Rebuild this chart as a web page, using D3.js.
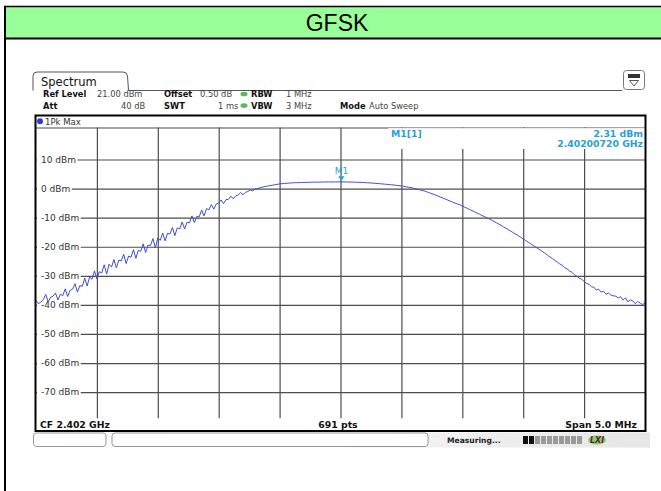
<!DOCTYPE html>
<html><head><meta charset="utf-8">
<script src="https://cdn.jsdelivr.net/npm/d3@7/dist/d3.min.js"></script>
<style>body{margin:0;background:#fff;} svg{display:block;}</style>
</head><body><svg id="c" width="661" height="491"></svg>
<script>
// ---------- data ----------
const title = "GFSK";
const yRange = [-79, 21];                 // dBm (bottom, ref level)
const yTickValues = [10, 0, -10, -20, -30, -40, -50, -60, -70];
const yTickLabels = ["10 dBm", "0 dBm", "-10 dBm", "-20 dBm", "-30 dBm", "-40 dBm", "-50 dBm", "-60 dBm", "-70 dBm"];
const xRange = [-2.5, 2.5];               // MHz offset from CF
const xGridValues = [-2.0, -1.5, -1.0, -0.5, 0.0, 0.5, 1.0, 1.5, 2.0];
const sweepStepMHz = 0.02;
const traceDbm = [
-38.4,-39.6,-39.0,-38.2,-36.4,-39.0,-37.4,-37.0,-35.9,-38.3,
-36.4,-36.8,-34.5,-37.1,-35.0,-34.6,-32.7,-35.6,-33.4,-33.6,
-30.8,-33.5,-30.4,-31.2,-28.3,-31.0,-28.6,-29.0,-26.2,-29.4,
-26.0,-27.0,-24.4,-27.3,-24.6,-24.9,-22.6,-25.8,-23.2,-23.6,
-21.0,-24.0,-21.2,-21.6,-19.0,-22.0,-19.4,-19.6,-17.2,-20.4,
-17.0,-17.8,-15.3,-18.0,-15.4,-15.6,-13.4,-16.2,-13.5,-13.9,
-11.5,-13.9,-11.6,-11.8,-9.4,-11.7,-9.6,-9.7,-7.4,-9.4,
-6.9,-7.3,-5.5,-7.1,-5.3,-5.0,-3.9,-5.2,-3.8,-3.7,
-2.6,-3.5,-2.5,-2.2,-1.4,-2.1,-1.3,-1.0,-0.5,-0.8,
-0.1,0.0,0.35,0.5,0.7,0.85,1.0,1.15,1.3,1.45,
1.6,1.68,1.75,1.83,1.9,1.95,2.0,2.03,2.05,2.08,
2.1,2.13,2.15,2.18,2.2,2.21,2.22,2.24,2.25,2.26,
2.27,2.28,2.29,2.29,2.30,2.31,2.30,2.28,2.26,2.24,
2.22,2.2,2.17,2.14,2.1,2.05,2.0,1.95,1.9,1.83,
1.75,1.68,1.6,1.53,1.45,1.38,1.3,1.2,1.1,1.0,
0.9,0.75,0.6,0.45,0.3,0.1,-0.1,-0.3,-0.5,-0.75,
-1.0,-1.3,-1.6,-1.9,-2.2,-2.55,-2.9,-3.25,-3.6,-3.95,
-4.3,-4.65,-5.0,-5.3,-5.6,-6.0,-6.4,-6.8,-7.2,-7.6,
-8.0,-8.4,-8.8,-9.2,-9.6,-10.0,-10.4,-10.85,-11.3,-11.75,
-12.2,-12.7,-13.2,-13.7,-14.2,-14.7,-15.2,-15.7,-16.2,-16.75,
-17.3,-17.85,-18.4,-18.95,-19.5,-20.05,-20.6,-21.15,-21.7,-22.3,
-22.9,-23.5,-24.1,-24.7,-25.3,-25.9,-26.4,-27.2,-27.6,-28.3,
-28.8,-29.6,-30.1,-30.8,-31.2,-31.9,-32.6,-32.9,-33.8,-33.9,
-34.9,-34.6,-35.6,-35.3,-36.4,-35.9,-36.6,-36.9,-37.0,-37.6,
-37.2,-38.3,-37.6,-38.9,-38.3,-38.6,-39.6,-38.8,-39.4,-39.9,
-39.3
];
const markerName = "M1";
const markerFreqMHz = 0.0072;
const markerDbm = 2.31;
const markerLevelText = "2.31 dBm";
const markerFreqText = "2.40200720 GHz";
const footerLeft = "CF 2.402 GHz";
const footerMid = "691 pts";
const footerRight = "Span 5.0 MHz";
const traceLabel = "1Pk Max";

// ---------- drawing ----------
const svg = d3.select("#c");
const F = "'DejaVu Sans', Verdana, sans-serif";

// outer table frame + title band
svg.append("rect").attr("x",5).attr("y",6.5).attr("width",700).attr("height",32)
  .attr("fill","#99ff99");
svg.append("line").attr("x1",5).attr("x2",661).attr("y1",6.5).attr("y2",6.5).attr("stroke","#000").attr("stroke-width",1.6);
svg.append("line").attr("x1",5).attr("x2",661).attr("y1",38.5).attr("y2",38.5).attr("stroke","#000").attr("stroke-width",2);
svg.append("line").attr("x1",5).attr("x2",5).attr("y1",5.7).attr("y2",491).attr("stroke","#000").attr("stroke-width",2);
svg.append("text").attr("x",337).attr("y",31).attr("text-anchor","middle")
  .attr("font-family","'Liberation Sans', Arial, sans-serif").attr("font-size",23).attr("fill","#000").text(title);

// header tab
svg.append("path").attr("d","M33,90.5 L33,76 Q33,72 37,72 L123,72 Q127,72 127.5,76 L128.5,90.5 L622,90.5")
  .attr("fill","none").attr("stroke","#555").attr("stroke-width",1);
svg.append("text").attr("x",41).attr("y",86).attr("font-family",F).attr("font-size",11.5).attr("fill","#111").text("Spectrum");

// top-right icon
svg.append("rect").attr("x",623.5).attr("y",70.5).attr("width",21).attr("height",19).attr("rx",3)
  .attr("fill","#fff").attr("stroke","#777");
svg.append("rect").attr("x",628).attr("y",74).attr("width",12).attr("height",4).attr("fill","#333");
svg.append("path").attr("d","M629.5,80.5 L638.5,80.5 L634,86 Z").attr("fill","none").attr("stroke","#555");

// settings rows
const hdr = [
  [43,97,"Ref Level",true],[97,97,"21.00 dBm",false],[164,97,"Offset",true],[200,97,"0.50 dB",false],
  [251,97,"RBW",true],[286,97,"1 MHz",false],
  [43,108.5,"Att",true],[121,108.5,"40 dB",false],[164,108.5,"SWT",true],[218,108.5,"1 ms",false],
  [251,108.5,"VBW",true],[286,108.5,"3 MHz",false],[340,108.5,"Mode",true],[369,108.5,"Auto Sweep",false]
];
svg.selectAll("text.hdr").data(hdr).enter().append("text").attr("class","hdr")
  .attr("x",d=>d[0]).attr("y",d=>d[1]).attr("font-family",F).attr("font-size",8.3)
  .attr("font-weight",d=>d[3]?"bold":"normal").attr("fill",d=>d[3]?"#111":"#444").text(d=>d[2]);
[94,105.5].forEach(cy=>svg.append("ellipse").attr("cx",244).attr("cy",cy).attr("rx",3.5).attr("ry",2.3).attr("fill","#5cb85c"));

// scales
const x = d3.scaleLinear().domain(xRange).range([36, 645]);
const y = d3.scaleLinear().domain(yRange).range([418.3, 127.5]);

// plot grid
const grid = svg.append("g");
grid.append("g").attr("transform","translate(0,127.5)")
  .call(d3.axisBottom(x).tickValues(xGridValues).tickSize(418.3-127.5).tickFormat(""))
  .call(g=>{g.select(".domain").remove(); g.selectAll("line").attr("stroke","#4d4d4d").attr("stroke-width",1.2);});
grid.append("g").attr("transform","translate(36,0)")
  .call(d3.axisRight(y).tickValues(yTickValues.concat([yRange[1]])).tickSize(609).tickFormat(""))
  .call(g=>{g.select(".domain").remove(); g.selectAll("line").attr("stroke","#4d4d4d").attr("stroke-width",1.2);});

// y labels with white background
const lab = svg.append("g");
yTickValues.forEach((v,i)=>{
  const t = lab.append("text").attr("x",41).attr("y",y(v)+3.3).attr("font-family",F).attr("font-size",9)
    .attr("fill","#333").text(yTickLabels[i]);
  const bb = t.node().getBBox();
  lab.insert("rect","text").attr("x",37).attr("y",y(v)-4).attr("width",bb.x+bb.width-37+1.5).attr("height",8).attr("fill","#fff");
});

// marker info box
svg.append("rect").attr("x",388).attr("y",128.2).attr("width",257).attr("height",20.8).attr("fill","#fff");
const mc = "#2a9fd6";
svg.append("text").attr("x",391).attr("y",136.5).attr("font-family",F).attr("font-size",9.3).attr("font-weight","bold").attr("fill",mc).text(markerName+"[1]");
svg.append("text").attr("x",643).attr("y",136.5).attr("text-anchor","end").attr("font-family",F).attr("font-size",9.3).attr("font-weight","bold").attr("fill",mc).text(markerLevelText);
svg.append("text").attr("x",643).attr("y",146.5).attr("text-anchor","end").attr("font-family",F).attr("font-size",9.3).attr("font-weight","bold").attr("fill",mc).text(markerFreqText);

// trace
const freqs = d3.range(traceDbm.length).map(i => xRange[0] + i*sweepStepMHz);
svg.append("path").datum(traceDbm)
  .attr("d", d3.line().x((d,i)=>x(freqs[i])).y(d=>y(d)))
  .attr("fill","none").attr("stroke","#3d4fd1").attr("stroke-width",1);

// marker
const mx = x(markerFreqMHz), my = y(markerDbm);
svg.append("path").attr("d",`M${mx-3.2},${my-5.5} L${mx+3.2},${my-5.5} L${mx},${my-1} Z`).attr("fill",mc);
svg.append("text").attr("x",mx).attr("y",my-7.5).attr("text-anchor","middle").attr("font-family",F).attr("font-size",9).attr("fill",mc).text(markerName);

// trace label bar
svg.append("circle").attr("cx",40).attr("cy",121.3).attr("r",3).attr("fill","#2d3fc8");
svg.append("text").attr("x",45).attr("y",124.5).attr("font-family",F).attr("font-size",8.5).attr("fill","#333").text(traceLabel);

// footer
svg.append("text").attr("x",40).attr("y",428).attr("font-family",F).attr("font-size",9.3).attr("font-weight","bold").attr("fill","#111").text(footerLeft);
svg.append("text").attr("x",338).attr("y",428).attr("text-anchor","middle").attr("font-family",F).attr("font-size",9.3).attr("font-weight","bold").attr("fill","#111").text(footerMid);
svg.append("text").attr("x",637).attr("y",428).attr("text-anchor","end").attr("font-family",F).attr("font-size",9.3).attr("font-weight","bold").attr("fill","#111").text(footerRight);

// plot frame
svg.append("rect").attr("x",35.5).attr("y",115.5).attr("width",610).attr("height",315.5)
  .attr("fill","none").attr("stroke","#000").attr("stroke-width",2);

// status bar
const defs = svg.append("defs");
const lg = defs.append("linearGradient").attr("id","sg").attr("x1","0").attr("x2","1").attr("y1","0").attr("y2","0");
lg.append("stop").attr("offset","0").attr("stop-color","#ffffff");
lg.append("stop").attr("offset","0.6").attr("stop-color","#f2f2f2");
lg.append("stop").attr("offset","1").attr("stop-color","#e6e6e6");
svg.append("rect").attr("x",33).attr("y",432.5).attr("width",617).attr("height",15).attr("fill","url(#sg)");
svg.append("rect").attr("x",33.5).attr("y",433).attr("width",72.5).attr("height",13.5).attr("rx",3).attr("fill","#fff").attr("stroke","#999");
svg.append("rect").attr("x",112).attr("y",433).attr("width",316).attr("height",13.5).attr("rx",3).attr("fill","#fff").attr("stroke","#999");
svg.append("text").attr("x",447).attr("y",442.5).attr("font-family",F).attr("font-size",7.6).attr("font-weight","bold").attr("fill","#222").text("Measuring...");
d3.range(10).forEach(i=>svg.append("rect").attr("x",523+i*6).attr("y",436).attr("width",5).attr("height",8)
  .attr("fill", i<2 ? "#111" : "#9a9a9a"));
svg.append("ellipse").attr("cx",597).attr("cy",440).attr("rx",9).attr("ry",4.5).attr("fill","#7fcf7f");
svg.append("text").attr("x",597).attr("y",443).attr("text-anchor","middle").attr("font-family",F).attr("font-size",8)
  .attr("font-weight","bold").attr("font-style","italic").attr("fill","#7a1a1a").text("LXI");
</script></body></html>
